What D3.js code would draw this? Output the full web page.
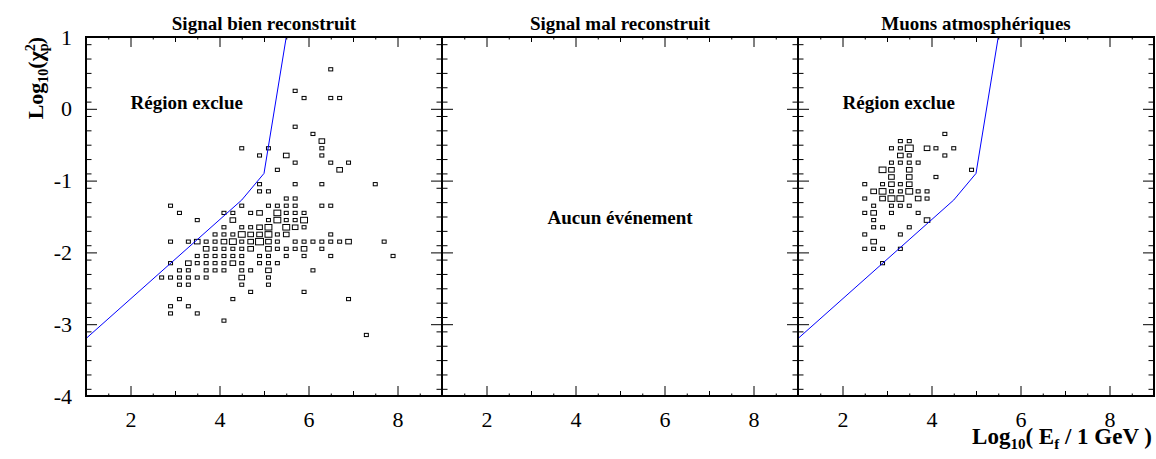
<!DOCTYPE html>
<html>
<head>
<meta charset="utf-8">
<script src="https://cdn.jsdelivr.net/npm/d3@7"></script>
<style>
  body { margin: 0; background: #fff; }
  svg { display: block; font-family: "Liberation Serif", "Times New Roman", serif; }
</style>
</head>
<body>
<div id="container"></div>
<script>
/* CONSTANTS AND GLOBALS */
const width = 1156,
  height = 459,
  margin = {top: 37, left: 86, bottom: 63, right: 2},
  panelW = 356;

/* DATA */
const panelTitles = ["Signal bien reconstruit", "Signal mal reconstruit", "Muons atmosphériques"];
const xDomain = [1, 9];
const yDomain = [-4, 1];
const xTickLabels = [2, 4, 6, 8];
const yTickLabels = [-4, -3, -2, -1, 0, 1];
const binW = 0.2, binH = 0.1, maxCount = 5;

// cut line (log10 E, log10 chi2)
const cutLine = [[1, -3.2], [4.5, -1.27], [5, -0.9], [5.5, 1]];

// [log10 E, log10 chi2, entries]
const signalBoxes = [
  [6.5,0.55,1],
  [5.7,0.25,1],
  [5.9,0.15,1],[6.5,0.15,1],[6.7,0.15,1],
  [5.7,-0.25,1],
  [6.1,-0.35,1],
  [6.3,-0.45,2],
  [4.5,-0.55,1],[5.1,-0.55,1],[6.3,-0.55,1],
  [4.9,-0.65,1],[5.5,-0.65,2],[6.3,-0.65,1],
  [5.7,-0.75,1],[6.5,-0.75,1],[6.9,-0.75,1],
  [5.3,-0.85,1],[6.7,-0.85,2],
  [4.9,-1.05,1],[5.7,-1.05,1],[6.3,-1.05,1],[7.5,-1.05,1],
  [4.9,-1.15,1],[5.1,-1.15,1],
  [5.5,-1.25,1],[5.7,-1.25,1],
  [2.9,-1.35,1],[4.5,-1.35,1],[5.1,-1.35,1],[5.3,-1.35,1],[5.5,-1.35,1],[5.7,-1.35,1],[6.3,-1.35,1],[6.5,-1.35,1],
  [3.1,-1.45,1],[4.1,-1.45,1],[4.3,-1.45,1],[4.7,-1.45,1],[4.9,-1.45,2],[5.3,-1.45,3],[5.5,-1.45,1],[5.7,-1.45,1],[5.9,-1.45,1],
  [3.5,-1.55,1],[4.3,-1.55,2],[5.1,-1.55,1],[5.3,-1.55,3],[5.5,-1.55,1],[5.7,-1.55,1],[5.9,-1.55,3],
  [4.1,-1.65,1],[4.5,-1.65,1],[4.7,-1.65,1],[4.9,-1.65,2],[5.1,-1.65,3],[5.5,-1.65,3],[5.7,-1.65,2],[5.9,-1.65,1],
  [3.9,-1.75,1],[4.1,-1.75,1],[4.3,-1.75,1],[4.5,-1.75,3],[4.7,-1.75,2],[4.9,-1.75,2],[5.1,-1.75,3],[5.3,-1.75,1],[5.5,-1.75,2],[6.5,-1.75,1],
  [2.9,-1.85,1],[3.3,-1.85,1],[3.5,-1.85,2],[3.7,-1.85,1],[3.9,-1.85,1],[4.1,-1.85,2],[4.3,-1.85,3],[4.5,-1.85,1],[4.7,-1.85,2],[4.9,-1.85,4],
  [5.1,-1.85,2],[5.3,-1.85,1],[5.7,-1.85,1],[5.9,-1.85,1],[6.1,-1.85,1],[6.3,-1.85,1],[6.5,-1.85,1],[6.7,-1.85,1],[6.9,-1.85,2],[7.7,-1.85,1],
  [3.7,-1.95,2],[3.9,-1.95,1],[4.1,-1.95,1],[4.3,-1.95,1],[4.5,-1.95,1],[4.7,-1.95,2],[5.1,-1.95,2],[5.3,-1.95,1],[5.5,-1.95,1],[5.7,-1.95,1],[5.9,-1.95,2],[6.3,-1.95,1],
  [3.5,-2.05,1],[3.7,-2.05,1],[3.9,-2.05,1],[4.1,-2.05,1],[4.3,-2.05,1],[4.5,-2.05,1],[4.9,-2.05,1],[5.1,-2.05,1],[5.5,-2.05,1],[5.9,-2.05,1],[6.5,-2.05,1],[7.9,-2.05,1],
  [2.9,-2.15,1],[3.3,-2.15,2],[3.5,-2.15,1],[3.7,-2.15,1],[3.9,-2.15,1],[4.1,-2.15,1],[4.3,-2.15,2],[4.5,-2.15,1],[4.9,-2.15,1],[5.1,-2.15,1],[5.3,-2.15,1],
  [3.1,-2.25,1],[3.3,-2.25,1],[3.7,-2.25,1],[3.9,-2.25,1],[4.1,-2.25,1],[4.5,-2.25,1],[4.7,-2.25,1],[5.1,-2.25,2],[6.1,-2.25,1],
  [2.7,-2.35,1],[2.9,-2.35,1],[3.1,-2.35,1],[3.3,-2.35,1],[3.5,-2.35,1],[3.7,-2.35,1],[4.5,-2.35,2],[5.1,-2.35,1],
  [3.1,-2.45,1],[3.3,-2.45,1],[4.5,-2.45,1],[5.1,-2.45,1],
  [4.7,-2.55,1],[5.9,-2.55,1],
  [3.1,-2.65,1],[4.3,-2.65,1],[6.9,-2.65,1],
  [2.9,-2.75,1],[3.3,-2.75,1],
  [2.9,-2.85,1],[3.5,-2.85,1],
  [4.1,-2.95,1],
  [7.3,-3.15,1]
];

const misrecoBoxes = [];

const muonBoxes = [
  [4.3,-0.35,1],
  [3.3,-0.45,1],[3.5,-0.45,1],
  [3.1,-0.55,1],[3.3,-0.55,1],[3.5,-0.55,4],[3.9,-0.55,2],[4.1,-0.55,1],[4.5,-0.55,1],
  [3.3,-0.65,2],[3.5,-0.65,1],[4.3,-0.65,1],
  [3.1,-0.75,1],[3.3,-0.75,1],[3.5,-0.75,1],[3.7,-0.75,1],
  [2.9,-0.85,3],[3.1,-0.85,2],[3.5,-0.85,2],[4.9,-0.85,1],
  [3.1,-0.95,2],[3.5,-0.95,2],[4.1,-0.95,1],
  [2.5,-1.05,1],[2.9,-1.05,1],[3.1,-1.05,2],[3.3,-1.05,1],[3.5,-1.05,2],
  [2.7,-1.15,2],[2.9,-1.15,3],[3.1,-1.15,1],[3.3,-1.15,1],[3.5,-1.15,3],[3.7,-1.15,1],[3.9,-1.15,1],
  [2.5,-1.25,1],[2.9,-1.25,2],[3.1,-1.25,3],[3.3,-1.25,3],[3.7,-1.25,2],[3.9,-1.25,1],
  [2.7,-1.35,1],[3.1,-1.35,1],[3.3,-1.35,1],[3.5,-1.35,1],
  [2.5,-1.45,1],[2.7,-1.45,2],[3.1,-1.45,1],[3.7,-1.45,1],
  [2.7,-1.55,1],[3.9,-1.55,2],
  [2.7,-1.65,1],[2.9,-1.65,1],[3.5,-1.65,1],
  [2.5,-1.75,1],[3.3,-1.75,1],
  [2.7,-1.85,2],
  [2.5,-1.95,1],[2.7,-1.95,1],[2.9,-1.95,1],[3.3,-1.95,1],
  [2.9,-2.15,1]
];

const panelBoxes = [signalBoxes, misrecoBoxes, muonBoxes];
const panelCut = [true, false, true];
const panelNotes = ["Région exclue", "Aucun événement", "Région exclue"];

/* SVG */
const svg = d3.select("#container")
  .append("svg")
  .attr("width", width)
  .attr("height", height);

const plotBottom = height - margin.bottom;

const yScale = d3.scaleLinear()
  .domain(yDomain)
  .range([plotBottom, margin.top]);

const boxScale = d3.scaleSqrt().domain([0, maxCount]).range([0, 1]);

// tick sets (axis decoration)
const xMedium = [3, 5, 7];
const xMinor = d3.range(1.5, 9, 1);
const yMinor = d3.range(-39, 10, 2).map(d => d / 10).filter(d => Math.abs(d - Math.round(d)) > 0.01);

const plainNum = d => String(d); // hyphen minus like the original

function styleAxis(g) {
  g.select(".domain").remove();
  g.selectAll(".tick line").attr("stroke", "#000").attr("stroke-width", 1);
}
function styleLabels(g) {
  g.attr("font-family", null).attr("font-size", null);
  g.selectAll("text").attr("font-size", 22).attr("font-family", "Liberation Serif").attr("fill", "#000");
}

panelTitles.forEach((title, i) => {
  const x0 = margin.left + i * panelW;
  const xScale = d3.scaleLinear()
    .domain(xDomain)
    .range([x0, x0 + panelW]);

  const panel = svg.append("g").attr("class", "panel");

  // clip
  const clipId = "clip" + i;
  svg.append("clipPath").attr("id", clipId)
    .append("rect")
    .attr("x", x0).attr("y", margin.top)
    .attr("width", panelW).attr("height", plotBottom - margin.top);

  // BOXES
  const bw = xScale(xDomain[0] + binW) - xScale(xDomain[0]);
  const bh = yScale(yDomain[0]) - yScale(yDomain[0] + binH);
  panel.append("g")
    .selectAll("rect")
    .data(panelBoxes[i])
    .join("rect")
    .attr("x", d => xScale(d[0]) - bw * boxScale(d[2]) / 2)
    .attr("y", d => yScale(d[1]) - bh * boxScale(d[2]) / 2)
    .attr("width", d => bw * boxScale(d[2]))
    .attr("height", d => bh * boxScale(d[2]))
    .attr("fill", "none")
    .attr("stroke", "#000")
    .attr("stroke-width", 1);

  // CUT LINE
  if (panelCut[i]) {
    const lineGen = d3.line()
      .x(d => xScale(d[0]))
      .y(d => yScale(d[1]));
    panel.append("path")
      .attr("d", lineGen(cutLine))
      .attr("clip-path", `url(#${clipId})`)
      .attr("fill", "none")
      .attr("stroke", "#0000ff")
      .attr("stroke-width", 1);
  }

  // AXES - bottom
  const bottom = svg.append("g").attr("transform", `translate(0,${plotBottom})`);
  bottom.append("g").call(d3.axisBottom(xScale).tickValues(xTickLabels).tickSize(-10).tickPadding(15).tickFormat(plainNum))
    .call(styleAxis)
    .call(styleLabels);
  bottom.append("g").call(d3.axisBottom(xScale).tickValues(xMedium).tickSize(-5).tickFormat("")).call(styleAxis);
  bottom.append("g").call(d3.axisBottom(xScale).tickValues(xMinor).tickSize(-2.5).tickFormat("")).call(styleAxis);

  // top
  const top = svg.append("g").attr("transform", `translate(0,${margin.top})`);
  top.append("g").call(d3.axisTop(xScale).tickValues(xTickLabels).tickSize(-10).tickFormat("")).call(styleAxis);
  top.append("g").call(d3.axisTop(xScale).tickValues(xMedium).tickSize(-5).tickFormat("")).call(styleAxis);
  top.append("g").call(d3.axisTop(xScale).tickValues(xMinor).tickSize(-2.5).tickFormat("")).call(styleAxis);

  // left
  const left = svg.append("g").attr("transform", `translate(${x0},0)`);
  left.append("g").call(d3.axisLeft(yScale).tickValues(yTickLabels).tickSize(-11).tickPadding(14)
      .tickFormat(i === 0 ? plainNum : ""))
    .call(styleAxis)
    .call(styleLabels);
  left.append("g").call(d3.axisLeft(yScale).tickValues(yMinor).tickSize(-5.5).tickFormat("")).call(styleAxis);

  // right
  const right = svg.append("g").attr("transform", `translate(${x0 + panelW},0)`);
  right.append("g").call(d3.axisRight(yScale).tickValues(yTickLabels).tickSize(-11).tickFormat("")).call(styleAxis);
  right.append("g").call(d3.axisRight(yScale).tickValues(yMinor).tickSize(-5.5).tickFormat("")).call(styleAxis);

  // FRAME
  svg.append("rect")
    .attr("x", x0).attr("y", margin.top)
    .attr("width", panelW).attr("height", plotBottom - margin.top)
    .attr("fill", "none")
    .attr("stroke", "#000")
    .attr("stroke-width", 2);

  // TITLE
  svg.append("text")
    .attr("x", x0 + panelW / 2)
    .attr("y", 30)
    .attr("text-anchor", "middle")
    .attr("font-weight", "bold")
    .attr("font-size", 19)
    .text(title);

  // NOTE
  if (i === 1) {
    svg.append("text")
      .attr("x", xScale(5)).attr("y", yScale(-1.6))
      .attr("text-anchor", "middle")
      .attr("font-weight", "bold")
      .attr("font-size", 19)
      .text(panelNotes[i]);
  } else {
    svg.append("text")
      .attr("x", xScale(2)).attr("y", yScale(0))
      .attr("font-weight", "bold")
      .attr("font-size", 19)
      .text(panelNotes[i]);
  }
});

// AXIS TITLES
const xTitle = svg.append("text")
  .attr("x", width - 4)
  .attr("y", 444)
  .attr("text-anchor", "end")
  .attr("font-weight", "bold")
  .attr("font-size", 23);
xTitle.append("tspan").text("Log");
xTitle.append("tspan").attr("font-size", 15).attr("dy", 5).text("10");
xTitle.append("tspan").attr("dy", -5).text("( E");
xTitle.append("tspan").attr("font-size", 15).attr("dy", 5).text("f");
xTitle.append("tspan").attr("dy", -5).text(" / 1 GeV )");

const yTitle = svg.append("text")
  .attr("transform", `translate(43,${margin.top}) rotate(-90)`)
  .attr("text-anchor", "end")
  .attr("font-weight", "bold")
  .attr("font-size", 22);
yTitle.append("tspan").text("Log");
yTitle.append("tspan").attr("font-size", 14).attr("dy", 5).text("10");
yTitle.append("tspan").attr("dy", -5).text("(χ");
yTitle.append("tspan").attr("font-size", 14).attr("dy", 5).text("p");
yTitle.append("tspan").attr("font-size", 14).attr("dx", -8).attr("dy", -13).text("2");
yTitle.append("tspan").attr("dy", 8).text(")");
</script>
</body>
</html>
